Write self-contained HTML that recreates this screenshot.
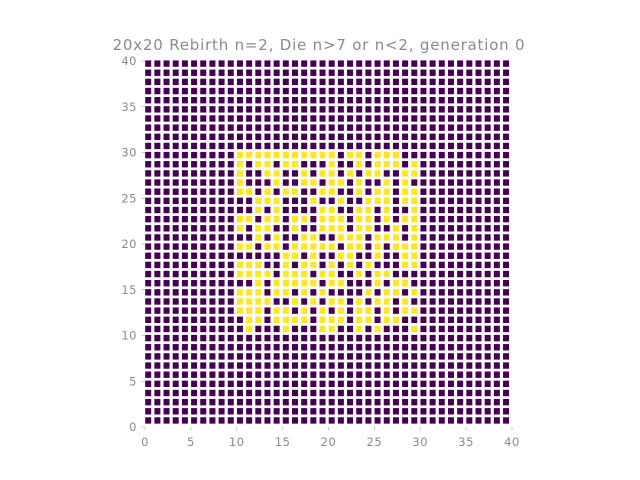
<!DOCTYPE html>
<html><head><meta charset="utf-8"><style>
html,body{margin:0;padding:0;background:#fff;}
svg{display:block;font-family:"DejaVu Sans","Liberation Sans",sans-serif;}
</style></head><body>
<svg id="chart" width="640" height="480">
<text x="319" y="50" text-anchor="middle" font-size="15" letter-spacing="0.8" fill="#8a8a8a">20x20 Rebirth n=2, Die n&gt;7 or n&lt;2, generation 0</text>
<g id="cells"></g>
<g id="axes"></g>
</svg>
<script>
// grid size
const gridSize = [40];
// rows of the live region, top (y=29) to bottom (y=10), columns x=10..29; Y=alive
const liveRows = [
"YYYYYYYYYYYPYYPYYYPP",
"YPYYPYYPPPYPPYPYYYPY",
"YPPYYPPYPYYPYPYYPPYY",
"YPPPYPPYYPYYPYPPYPYP",
"YYPYPYYPPYYPPYPYYPYY",
"PPYYYPPPYPPYPPYYYPYY",
"PPYPYPPPPYYPPYYPYPPY",
"YYPYYPYYPYYYPYYPYPYY",
"YPYYPPYPPYYYPYYPPYPY",
"PPYPYPPYYPPYYYPYYYPY",
"YYPYYPYYYYYPYYPYPYYY",
"PPPPPYYPYPPYYPPYPPYY",
"YYYPPYPYYPYPYPYPPPYY",
"YYYYPYYYPYYPPYPYYPPP",
"PPYPYYYYYPYYPPPYPYYP",
"YYYPYYPYPYPPPPYPYYPY",
"YYYYPPYPYPYYPYPYYPYP",
"YYYPYYPYPYPYPYYPYPYY",
"PYYPYYYYPYYYPYYPYYPP",
"PYPPPYPPPYYPPYPYPPPY"
];
const liveTop = [29];
const liveLeft = [10];
const xTicks = [0,5,10,15,20,25,30,35,40];
const yTicks = [0,5,10,15,20,25,30,35,40];

const NS="http://www.w3.org/2000/svg";
const x0=145, x1=512, yb=427, yt=61;
const N=gridSize[0];
const px=(x1-x0)/N, py=(yb-yt)/N;
const sx=v=>x0+v*px;
const sy=v=>yb-v*py;
function isLive(cx,cy){
  const r=liveTop[0]-cy, c=cx-liveLeft[0];
  if(r<0||r>=liveRows.length||c<0||c>=liveRows[0].length) return false;
  return liveRows[r][c]==='Y';
}
const cells=document.getElementById('cells');
for(let cy=0;cy<N;cy++){
  for(let cx=0;cx<N;cx++){
    const r=document.createElementNS(NS,'rect');
    r.setAttribute('x',(sx(cx)+0.2).toFixed(2));
    r.setAttribute('y',(sy(cy+1)-0.6).toFixed(2));
    r.setAttribute('width','6');
    r.setAttribute('height','6.4');
    r.setAttribute('fill',isLive(cx,cy)?'#fde725':'#440154');
    
    
    cells.appendChild(r);
  }
}
const axes=document.getElementById('axes');
xTicks.forEach(t=>{
  const l=document.createElementNS(NS,'line');
  l.setAttribute('x1',sx(t));l.setAttribute('x2',sx(t));
  l.setAttribute('y1',yb);l.setAttribute('y2',yb+3.5);
  l.setAttribute('stroke','#bbb');l.setAttribute('stroke-width','0.8');
  
  
  axes.appendChild(l);
  const tx=document.createElementNS(NS,'text');
  tx.setAttribute('x',sx(t));tx.setAttribute('y',yb+19);
  tx.setAttribute('text-anchor','middle');tx.setAttribute('font-size','11.5');
  tx.setAttribute('letter-spacing','0.5');
  tx.setAttribute('fill','#8a8a8a');
  tx.textContent=t;
  
  
  axes.appendChild(tx);
});
yTicks.forEach(t=>{
  const l=document.createElementNS(NS,'line');
  l.setAttribute('x1',x0-3.5);l.setAttribute('x2',x0);
  l.setAttribute('y1',sy(t));l.setAttribute('y2',sy(t));
  l.setAttribute('stroke','#bbb');l.setAttribute('stroke-width','0.8');
  
  
  axes.appendChild(l);
  const tx=document.createElementNS(NS,'text');
  tx.setAttribute('x',x0-8);tx.setAttribute('y',sy(t)+4);
  tx.setAttribute('text-anchor','end');tx.setAttribute('font-size','11.5');
  tx.setAttribute('letter-spacing','0.5');
  tx.setAttribute('fill','#8a8a8a');
  tx.textContent=t;
  
  
  axes.appendChild(tx);
});
</script>
</body></html>
